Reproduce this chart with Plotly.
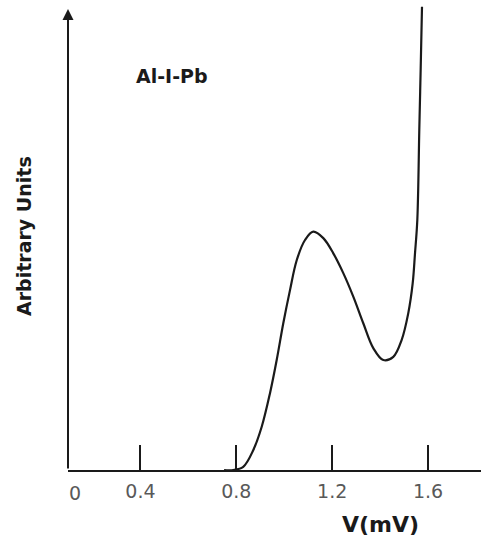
import plotly.graph_objects as go

# Tunnelling characteristic of an Al-I-Pb junction (arbitrary units vs bias voltage)
voltage_mv = [0.749, 0.7875, 0.829, 0.871, 0.906, 0.9406, 0.9685, 0.996, 1.024, 1.052,
              1.0866, 1.1212, 1.1629, 1.2046, 1.2463, 1.288, 1.3297, 1.3714, 1.4132,
              1.4549, 1.4899, 1.5174, 1.5358, 1.5454, 1.555, 1.5633, 1.569, 1.5746]
signal_au = [0.0, 0.0, 0.7, 4.35, 9.4, 16.7, 23.9, 31.9, 39.1, 45.6,
             50.0, 51.8, 50.4, 47.1, 42.8, 37.7, 31.9, 26.5, 23.9,
             24.6, 28.3, 34.1, 40.6, 47.1, 54.3, 73.9, 87.0, 100.7]

tick_values = [0.4, 0.8, 1.2, 1.6]
tick_labels = ["0.4", "0.8", "1.2", "1.6"]
origin_label = "0"

W, H = 481, 541
L, B, T, R = 68, 71, 0, 0
X_RANGE = [0.098, 1.8207]
Y_RANGE = [0, 102.17]

INK = "#1a1a1a"
GREY = "#595959"
FONT = "DejaVu Sans"


def xp(px):
    return (px - L) / (W - L - R)


def yp(py):
    return (H - B - py) / (H - B - T)


fig = go.Figure()
fig.add_trace(go.Scatter(
    x=voltage_mv, y=signal_au, mode="lines",
    line=dict(color=INK, width=2.2, shape="spline", smoothing=1.0),
    hoverinfo="skip", showlegend=False,
))

annotations = [
    # vertical axis drawn as an arrow
    dict(x=X_RANGE[0], y=100.2, xref="x", yref="y",
         ax=X_RANGE[0], ay=0, axref="x", ayref="y",
         showarrow=True, arrowhead=2, arrowsize=1.1, arrowwidth=2,
         arrowcolor=INK, text=""),
    dict(x=xp(75), y=yp(493), xref="paper", yref="paper", text=origin_label,
         showarrow=False, font=dict(family=FONT, size=19, color=GREY),
         xanchor="center", yanchor="middle"),
    dict(x=xp(172), y=yp(76), xref="paper", yref="paper", text="<b>Al-I-Pb</b>",
         showarrow=False, font=dict(family=FONT, size=19, color=INK),
         xanchor="center", yanchor="middle"),
    dict(x=xp(380), y=yp(524), xref="paper", yref="paper", text="<b>V(mV)</b>",
         showarrow=False, font=dict(family=FONT, size=22, color=INK),
         xanchor="center", yanchor="middle"),
    dict(x=xp(24), y=yp(236), xref="paper", yref="paper", text="<b>Arbitrary Units</b>",
         showarrow=False, textangle=-90, font=dict(family=FONT, size=19, color=INK),
         xanchor="center", yanchor="middle"),
]

fig.update_layout(
    width=W, height=H,
    margin=dict(l=L, r=R, t=T, b=B, pad=0),
    paper_bgcolor="white", plot_bgcolor="white",
    annotations=annotations,
    xaxis=dict(
        range=X_RANGE, showgrid=False, zeroline=False,
        showline=True, linecolor=INK, linewidth=2,
        ticks="inside", ticklen=25, tickwidth=2, tickcolor=INK,
        tickvals=tick_values, ticktext=tick_labels, ticklabelstandoff=3,
        tickfont=dict(family=FONT, size=19, color=GREY),
    ),
    yaxis=dict(
        range=Y_RANGE, showgrid=False, zeroline=False,
        showline=False, showticklabels=False, ticks="",
    ),
)

fig.write_html("out.html")
